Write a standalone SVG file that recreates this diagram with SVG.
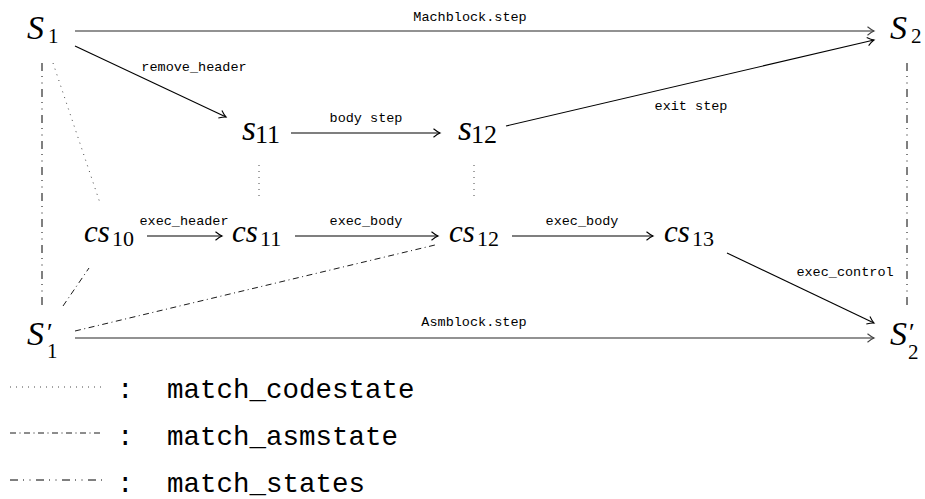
<svg xmlns="http://www.w3.org/2000/svg" width="925" height="499" viewBox="0 0 925 499">
<style>
.lbl{font-family:'Liberation Mono',monospace;font-size:13.5px;fill:#000;text-anchor:middle}
.leg{font-family:'Liberation Mono',monospace;font-size:27.5px;fill:#000}
.arr{stroke:#000;stroke-width:1.1;fill:none;marker-end:url(#ah)}
.garr{stroke:#6e6e6e;stroke-width:1.7;fill:none;marker-end:url(#ahg)}
.dot{stroke:#333;stroke-width:0.9;fill:none;stroke-dasharray:1 5}
.dd{stroke:#000;stroke-width:0.9;fill:none;stroke-dasharray:6 3.5 1 3.5}
.ddd{stroke:#000;stroke-width:1;fill:none;stroke-dasharray:8 5 1 5.5 1 5.5}
</style>
<defs>
<marker id="ah" markerWidth="12" markerHeight="12" refX="10" refY="6" orient="auto" markerUnits="userSpaceOnUse" viewBox="0 0 12 12">
<path d="M3.5,1.8 Q7.5,5 10,6 Q7.5,7 3.5,10.2" fill="none" stroke="#000" stroke-width="1.1"/>
</marker>
<marker id="ahg" markerWidth="12" markerHeight="12" refX="10" refY="6" orient="auto" markerUnits="userSpaceOnUse" viewBox="0 0 12 12">
<path d="M3.5,1.8 Q7.5,5 10,6 Q7.5,7 3.5,10.2" fill="none" stroke="#444" stroke-width="1.1"/>
</marker>
</defs>

<g id="connectors">
<line class="garr" x1="75" y1="31" x2="874" y2="31"/>
<text class="lbl" x="470" y="21">Machblock.step</text>
<line class="arr" x1="75" y1="46" x2="226" y2="117"/>
<text class="lbl" x="194" y="71">remove_header</text>
<line class="arr" x1="291" y1="133" x2="440" y2="133"/>
<text class="lbl" x="366" y="122">body step</text>
<line class="arr" x1="506" y1="126" x2="874" y2="40"/>
<text class="lbl" x="691" y="110">exit step</text>
<line class="arr" x1="147" y1="236" x2="222" y2="236"/>
<text class="lbl" x="184" y="225">exec_header</text>
<line class="arr" x1="295" y1="236" x2="438" y2="236"/>
<text class="lbl" x="366" y="225">exec_body</text>
<line class="arr" x1="512" y1="236" x2="653" y2="236"/>
<text class="lbl" x="582" y="225">exec_body</text>
<line class="arr" x1="727" y1="253" x2="874" y2="323"/>
<text class="lbl" x="845" y="276">exec_control</text>
<line class="garr" x1="75" y1="338" x2="874" y2="338"/>
<text class="lbl" x="474" y="326">Asmblock.step</text>
<line class="dot" x1="53" y1="63" x2="100" y2="203"/>
<line class="dot" x1="259" y1="165" x2="259" y2="199"/>
<line class="dot" x1="474" y1="165" x2="474" y2="199"/>
<line class="dd" x1="63" y1="306" x2="89" y2="268"/>
<line class="dd" x1="75" y1="331" x2="435" y2="245"/>
<line class="ddd" x1="42" y1="63" x2="42" y2="306"/>
<line class="ddd" x1="907" y1="63" x2="907" y2="306"/>
</g>

<g font-family="Liberation Serif" fill="#000">
<g id="S1"><text x="27" y="39" font-size="34" font-style="italic">S</text><text x="48" y="43" font-size="21">1</text></g>
<g id="S2"><text x="890" y="39" font-size="34" font-style="italic">S</text><text x="911" y="43" font-size="21">2</text></g>
<g id="S1p"><text x="27" y="345" font-size="34" font-style="italic">S<tspan x="47" y="341" font-size="26" font-style="normal">′</tspan></text><text x="47" y="358" font-size="21">1</text></g>
<g id="S2p"><text x="890" y="345" font-size="34" font-style="italic">S<tspan x="909" y="341" font-size="26" font-style="normal">′</tspan></text><text x="908" y="359" font-size="21">2</text></g>
<g id="s11"><text x="242" y="140" font-size="36" font-style="italic">s</text><text x="255" y="143" font-size="26">11</text></g>
<g id="s12"><text x="458" y="140" font-size="36" font-style="italic">s</text><text x="471" y="143" font-size="26">12</text></g>
<g id="cs10"><text x="84" y="242" font-size="31" font-style="italic">cs</text><text x="112" y="246" font-size="22">10</text></g>
<g id="cs11"><text x="232" y="242" font-size="31" font-style="italic">cs</text><text x="260" y="246" font-size="22">11</text></g>
<g id="cs12"><text x="449" y="242" font-size="31" font-style="italic">cs</text><text x="477" y="246" font-size="22">12</text></g>
<g id="cs13"><text x="664" y="242" font-size="31" font-style="italic">cs</text><text x="692" y="246" font-size="22">13</text></g>
</g>

<g id="legend">
<line class="dot" x1="10" y1="387" x2="102" y2="387"/>
<text class="leg" x="117" y="398">:</text>
<text class="leg" x="167" y="398">match_codestate</text>
<line class="dd" x1="10" y1="433" x2="102" y2="433"/>
<text class="leg" x="117" y="445">:</text>
<text class="leg" x="167" y="445">match_asmstate</text>
<line class="ddd" x1="10" y1="480" x2="102" y2="480"/>
<text class="leg" x="117" y="492">:</text>
<text class="leg" x="167" y="492">match_states</text>
</g>
</svg>
